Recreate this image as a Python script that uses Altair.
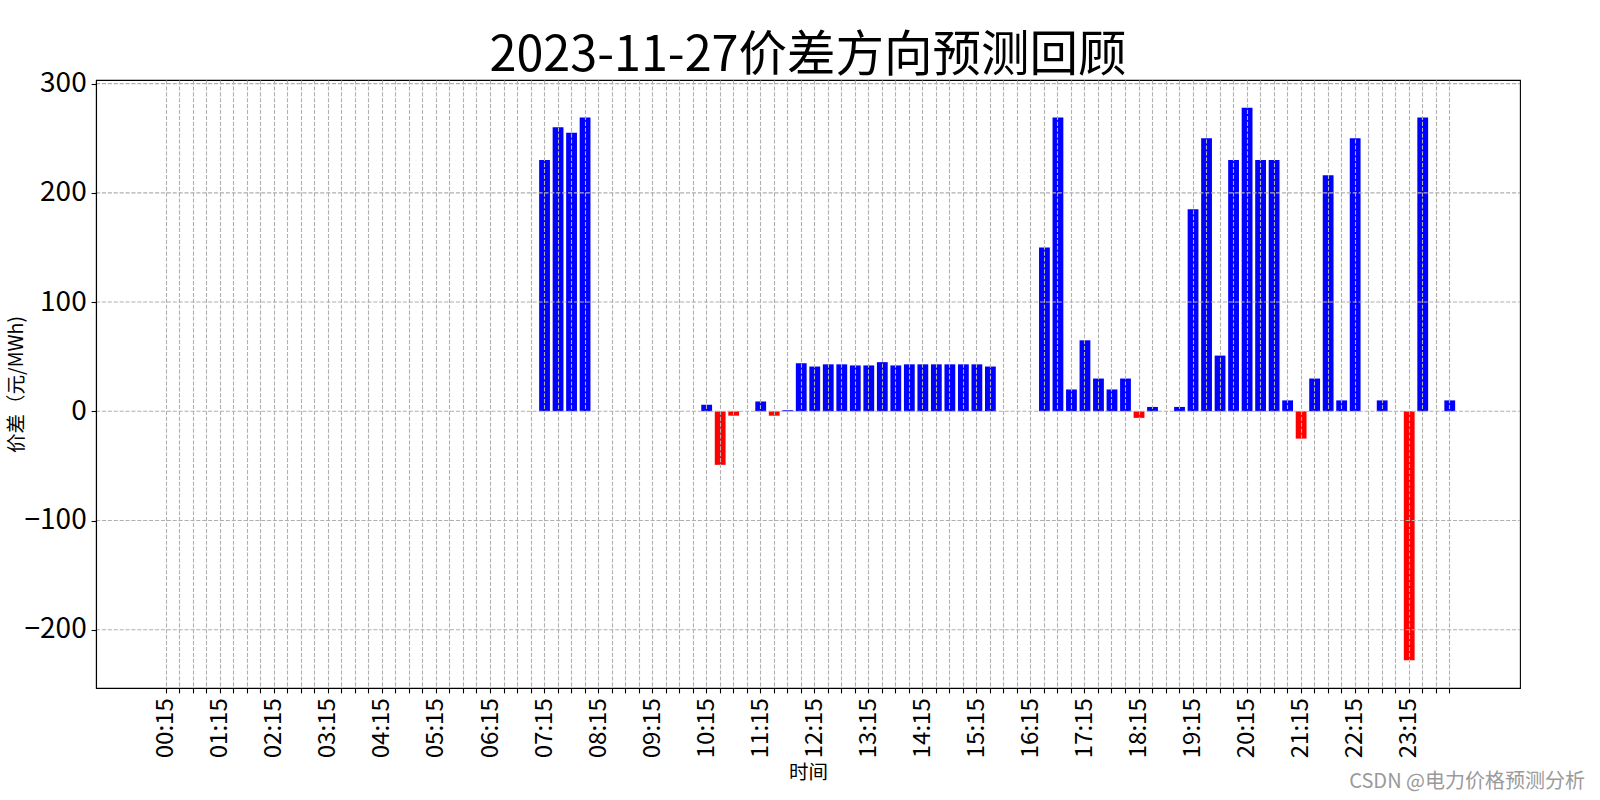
import altair as alt
import pandas as pd

title_text = "2023-11-27价差方向预测回顾"
y_title = "价差（元/MWh)"
x_title = "时间"
watermark = "CSDN @电力价格预测分析"

# 96 quarter-hour slots, 00:15 ... 24:00
times = [f"{(15 * (i + 1)) // 60:02d}:{(15 * (i + 1)) % 60:02d}" for i in range(96)]

values = [
    0, 0, 0, 0, 0, 0, 0, 0,          # 00:15-02:00
    0, 0, 0, 0, 0, 0, 0, 0,          # 02:15-04:00
    0, 0, 0, 0, 0, 0, 0, 0,          # 04:15-06:00
    0, 0, 0, 0, 230, 260, 255, 269,  # 06:15-08:00
    0, 0, 0, 0, 0, 0, 0, 0,          # 08:15-10:00
    6, -49, -4, 0, 9, -4, 1, 44,     # 10:15-12:00
    41, 43, 43, 42, 42, 45, 42, 43,  # 12:15-14:00
    43, 43, 43, 43, 43, 41, 0, 0,    # 14:15-16:00
    0, 150, 269, 20, 65, 30, 20, 30, # 16:15-18:00
    -6, 4, 0, 4, 185, 250, 51, 230,  # 18:15-20:00
    278, 230, 230, 10, -25, 30, 216, 10,  # 20:15-22:00
    250, 0, 10, 0, -228, 269, 0, 10,      # 22:15-24:00
]

y_ticks = [-200, -100, 0, 100, 200, 300]
y_domain = [-253.3, 303.3]

df = pd.DataFrame({"time": times, "value": values})
grid_df = pd.DataFrame({"value": y_ticks})

FONT = "Noto Sans CJK SC"
GRID = "#b0b0b0"
DASH = [4.1, 1.8]
W, H = 1424, 608

y_enc = alt.Y(
    "value:Q",
    scale=alt.Scale(domain=y_domain, nice=False, zero=False),
    axis=alt.Axis(
        title=y_title,
        titleFont=FONT,
        titleFontSize=19.5,
        titleFontWeight="normal",
        titleColor="black",
        titleX=-80,
        titleY=H / 2,
        titleAngle=270,
        titleAlign="center",
        titleBaseline="middle",
        values=y_ticks,
        labelFont=FONT,
        labelFontSize=28,
        labelColor="black",
        labelPadding=4.9,
        tickSize=4.9,
        tickColor="black",
        tickWidth=1.1,
        domainColor="black",
        domainWidth=1.1,
        grid=False,
        zindex=1,
    ),
)

bars = alt.Chart(df).mark_bar().encode(
    x=alt.X(
        "time:N",
        sort=times,
        scale=alt.Scale(domain=times, paddingInner=0.2, paddingOuter=0, range=[64.85, 1359.15]),
        axis=alt.Axis(
            title=x_title,
            titleFont=FONT,
            titleFontSize=19.5,
            titleFontWeight="normal",
            titleColor="black",
            titleX=W / 2,
            titleY=84,
            titleBaseline="middle",
            labelExpr="slice(datum.label, 3) == '15' ? datum.label : ''",
            labelAngle=270,
            labelAlign="right",
            labelBaseline="middle",
            labelFont=FONT,
            labelFontSize=24,
            labelColor="black",
            labelOverlap=False,
            labelPadding=4.9,
            tickSize=4.9,
            tickColor="black",
            tickWidth=1.1,
            bandPosition=0.5,
            domainColor="black",
            domainWidth=1.1,
            grid=True,
            gridColor=GRID,
            gridDash=DASH,
            gridWidth=1.1,
            zindex=1,
        ),
    ),
    y=y_enc,
    color=alt.condition(alt.datum.value > 0, alt.value("#0000ff"), alt.value("#ff0000")),
)

hgrid = alt.Chart(grid_df).mark_rule(
    color=GRID, strokeDash=DASH, strokeWidth=1.1
).encode(y=alt.Y("value:Q"), x=alt.value(0), x2=alt.value(W))

wm = alt.Chart(pd.DataFrame({"t": [watermark]})).mark_text(
    font=FONT, fontSize=20, color="#9a9a9a", align="right", baseline="middle"
).encode(text="t:N", x=alt.value(1489), y=alt.value(702))

chart = alt.layer(bars, hgrid, wm).properties(
    width=W,
    height=H,
    padding={"left": 96, "top": 80, "right": 80, "bottom": 112},
    autosize=alt.AutoSizeParams(type="none"),
    title=alt.TitleParams(
        text=title_text,
        font=FONT,
        fontSize=48.5,
        fontWeight="normal",
        color="black",
        anchor="middle",
        offset=-12,
    ),
).configure_view(stroke="black", strokeWidth=1.1)

chart.save("out.html", embed_options={"renderer": "svg", "actions": False})
